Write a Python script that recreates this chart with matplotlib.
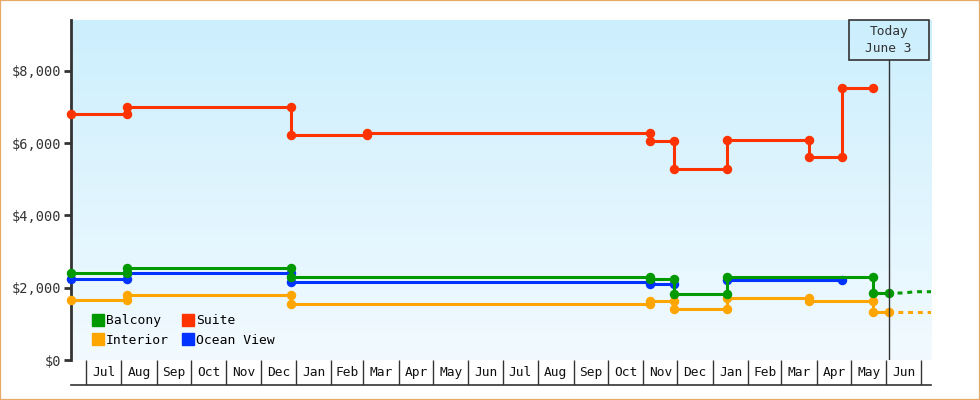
import numpy as np
import pandas as pd
import matplotlib
matplotlib.use("Agg")
import matplotlib.pyplot as plt
import matplotlib.dates as mdates
from matplotlib.lines import Line2D
from matplotlib.patches import Rectangle
from matplotlib.transforms import blended_transform_factory

# price history (two entries on the same day = price change that day)
suite_dates = ["2022-06-18", "2022-08-06", "2022-08-06", "2022-12-28", "2022-12-28",
               "2023-03-04", "2023-03-04", "2023-11-07", "2023-11-07", "2023-11-28",
               "2023-11-28", "2024-01-13", "2024-01-13", "2024-03-25", "2024-03-25",
               "2024-04-23", "2024-04-23", "2024-05-20"]
suite_prices = [6800, 6800, 6990, 6990, 6220,
                6220, 6270, 6270, 6070, 6070,
                5300, 5300, 6090, 6090, 5630,
                5630, 7530, 7530]

balcony_dates = ["2022-06-18", "2022-08-06", "2022-08-06", "2022-12-28", "2022-12-28",
                 "2023-11-07", "2023-11-07", "2023-11-28", "2023-11-28", "2024-01-13",
                 "2024-01-13", "2024-05-20", "2024-05-20", "2024-06-03"]
balcony_prices = [2400, 2400, 2540, 2540, 2290,
                  2290, 2235, 2235, 1830, 1830,
                  2290, 2290, 1850, 1850]

ocean_dates = ["2022-06-18", "2022-08-06", "2022-08-06", "2022-12-28", "2022-12-28",
               "2023-11-07", "2023-11-07", "2023-11-28", "2023-12-20", "2024-01-13",
               "2024-04-23"]
ocean_prices = [2240, 2240, 2400, 2400, 2150,
                2150, 2095, 2095, np.nan, 2210,
                2210]

interior_dates = ["2022-06-18", "2022-08-06", "2022-08-06", "2022-12-28", "2022-12-28",
                  "2023-11-07", "2023-11-07", "2023-11-28", "2023-11-28", "2024-01-13",
                  "2024-01-13", "2024-03-25", "2024-03-25", "2024-05-20", "2024-05-20",
                  "2024-06-03"]
interior_prices = [1660, 1660, 1800, 1800, 1540,
                   1540, 1620, 1620, 1420, 1420,
                   1710, 1710, 1620, 1620, 1320,
                   1320]

# forecast after today
balcony_fc_dates = ["2024-06-03", "2024-06-16", "2024-06-26", "2024-07-10"]
balcony_fc_prices = [1850, 1855, 1890, 1890]
interior_fc_dates = ["2024-06-03", "2024-07-10"]
interior_fc_prices = [1320, 1320]

today = "2024-06-03"
x_start, x_end = "2022-06-18", "2024-07-10"
y_ticks = [0, 2000, 4000, 6000, 8000]

colors = {"Balcony": "#009900", "Suite": "#ff3300",
          "Interior": "#ffa500", "Ocean View": "#0033ff"}
dark = "#333333"
mono = "DejaVu Sans Mono"

fig = plt.figure(figsize=(9.8, 4), dpi=100)
fig.patches.append(Rectangle((0, 0), 1, 1, transform=fig.transFigure,
                             fill=False, edgecolor="#e6a862", lw=1.6))

L, R, B, T = 71 / 980, 931 / 980, 1 - 360 / 400, 1 - 20 / 400
pos = [L, B, R - L, T - B]

# gradient background
bg = fig.add_axes(pos, zorder=0)
grad = np.linspace(0, 1, 256).reshape(-1, 1)
top_c = np.array([0xcc, 0xef, 0xfd]) / 255
bot_c = np.array([0xf2, 0xfa, 0xff]) / 255
img = top_c * (1 - grad[..., None]) + bot_c * grad[..., None]
bg.imshow(img, aspect="auto", extent=(0, 1, 0, 1))
bg.axis("off")

ax = fig.add_axes(pos, zorder=1)
ax.set_facecolor("none")

def d(lst):
    return pd.to_datetime(lst)

lw, ms = 2.2, 5.8
ax.plot(d(suite_dates), suite_prices, color=colors["Suite"], lw=lw,
        marker="o", ms=ms, zorder=3, clip_on=False)
ax.plot(d(interior_dates), interior_prices, color=colors["Interior"], lw=lw,
        marker="o", ms=ms, zorder=3, clip_on=False)
ax.plot(d(ocean_dates), ocean_prices, color=colors["Ocean View"], lw=lw,
        marker="o", ms=ms, zorder=4, clip_on=False)
ax.plot(d(balcony_dates), balcony_prices, color=colors["Balcony"], lw=lw,
        marker="o", ms=ms, zorder=5, clip_on=False)
ax.plot(d(balcony_fc_dates), balcony_fc_prices, color=colors["Balcony"], lw=lw,
        linestyle=(3.5, (1.6, 1.6)), zorder=2)
ax.plot(d(interior_fc_dates), interior_fc_prices, color=colors["Interior"], lw=lw,
        linestyle=(3.5, (1.6, 1.6)), zorder=2)

ax.set_xlim(pd.Timestamp(x_start), pd.Timestamp(x_end))
ax.set_ylim(0, 9410)
ax.set_yticks(y_ticks)
ax.set_yticklabels(["${:,}".format(v) for v in y_ticks], fontfamily=mono,
                   fontsize=9.8, color=dark)
ax.tick_params(axis="y", length=5, width=2, color=dark, pad=2)
ax.set_xticks([])
for s in ["top", "right", "bottom"]:
    ax.spines[s].set_visible(False)
ax.spines["left"].set_color(dark)
ax.spines["left"].set_linewidth(2)
ax.spines["left"].set_zorder(2)

# today marker
t = mdates.date2num(pd.Timestamp(today))
tr = blended_transform_factory(ax.transData, ax.transAxes)
box_h = 40 / 340
ax.plot([t, t], [0, 1 - box_h], color=dark, lw=1, transform=tr, zorder=6)
ax.add_patch(Rectangle((t - 35, 1 - box_h), 70, box_h, transform=tr,
                       facecolor="none", edgecolor=dark, lw=1.2, zorder=6,
                       clip_on=False))
ax.text(t, 1 - box_h / 2, "Today\nJune 3", transform=tr, ha="center",
        va="center", fontfamily=mono, fontsize=9.3, color=dark,
        linespacing=1.4, zorder=7)

# legend
order = ["Balcony", "Interior", "Suite", "Ocean View"]
handles = [Line2D([], [], marker="s", ls="none", color=colors[k], ms=8)
           for k in order]
ax.legend(handles, order, loc="upper left", bbox_to_anchor=(0.022, 0.134),
          ncol=2, frameon=False, prop={"family": mono, "size": 9.4},
          handletextpad=0.0, columnspacing=0.9, labelspacing=0.5,
          borderpad=0, borderaxespad=0, handlelength=1.2)

# month row
mx = fig.add_axes([L, 1 - 385 / 400, R - L, 25 / 400], zorder=1)
mx.set_facecolor("none")
mx.set_xlim(pd.Timestamp(x_start), pd.Timestamp(x_end))
mx.set_ylim(0, 1)
month_starts = pd.date_range("2022-07-01", "2024-07-01", freq="MS")
mx.vlines(month_starts, 0, 1, color=dark, lw=1)
for m0, m1 in zip(month_starts[:-1], month_starts[1:]):
    mx.text(m0 + (m1 - m0) / 2, 0.5, m0.strftime("%b"), ha="center",
            va="center", fontfamily=mono, fontsize=9.3, color="#111111")
for s in ["top", "right", "left"]:
    mx.spines[s].set_visible(False)
mx.spines["bottom"].set_color(dark)
mx.spines["bottom"].set_linewidth(1.2)
mx.set_xticks([])
mx.set_yticks([])

fig.savefig("out.png", dpi=100)
